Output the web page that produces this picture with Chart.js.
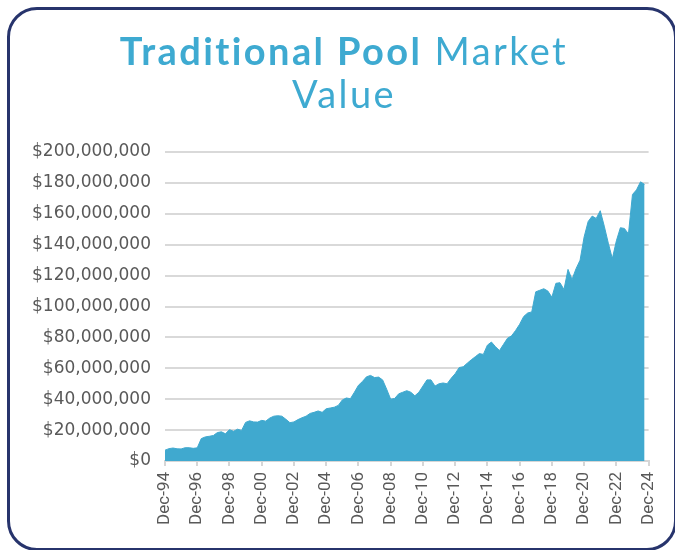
<!DOCTYPE html>
<html>
<head>
<meta charset="utf-8">
<script src="https://cdn.jsdelivr.net/npm/chart.js@4"></script>
<style>
  html, body { margin: 0; padding: 0; background: #ffffff; overflow: hidden; }
  body { width: 675px; height: 550px; position: relative; }
  .frame {
    position: absolute; left: 7px; top: 7px; width: 670px; height: 544px;
    box-sizing: border-box; border: 3px solid #27346c; border-radius: 30px;
  }
  .title {
    position: absolute; left: 0; top: 29px; width: 688px; text-align: center;
    font-family: Lato, "Open Sans", sans-serif; font-size: 38px; line-height: 43px;
    letter-spacing: 2.4px; color: #3eaad1;
  }
  .title b { font-weight: 700; }
  .title span { font-weight: 400; }
  #wrap { position: absolute; left: 0; top: 0; width: 675px; height: 550px; }
</style>
</head>
<body>
<div class="frame"></div>
<div id="wrap"><canvas id="poolChart"></canvas></div>
<div class="title"><b>Traditional Pool</b> <span>Market<br>Value</span></div>

<script>
// quarterly market value, Dec-94 .. Sep-24, in $ millions
const marketValues = [
  7.0, 8.0, 8.4, 7.9, 7.8, 8.6, 8.6, 8.2,
  8.5, 14.5, 15.6, 16.0, 16.5, 18.4, 18.9, 17.6,
  20.3, 19.2, 20.6, 19.8, 25.0, 26.0, 25.3, 25.2,
  26.3, 25.8, 27.8, 29.0, 29.3, 29.0, 27.0, 24.8,
  25.3, 26.8, 28.0, 29.0, 30.8, 31.5, 32.4, 31.5,
  33.8, 34.3, 34.8, 36.0, 39.5, 40.8, 40.3, 44.5,
  49.0, 51.5, 54.5, 55.4, 54.0, 54.3, 52.5, 46.5,
  40.0, 40.5, 43.5, 44.5, 45.5, 44.5, 42.2, 44.5,
  48.5, 52.5, 52.5, 48.5, 50.0, 50.5, 50.0, 53.5,
  56.5, 60.5, 61.0, 63.3, 65.5, 67.5, 69.5, 69.0,
  75.0, 77.0, 74.0, 71.5, 75.5, 79.5, 81.0, 84.5,
  88.5, 93.5, 95.8, 96.5, 109.5, 110.5, 111.5, 110.0,
  106.0, 115.0, 115.4, 111.0, 124.0, 117.5, 124.5, 130.0,
  145.0, 155.0, 158.5, 157.0, 162.0, 152.0, 141.0, 131.0,
  142.5, 151.0, 150.5, 147.0, 172.5, 175.5, 180.7, 179.0,
];

// one tick every 8 quarters
const tickLabels = [
  "Dec-94", "Dec-96", "Dec-98", "Dec-00", "Dec-02", "Dec-04", "Dec-06", "Dec-08",
  "Dec-10", "Dec-12", "Dec-14", "Dec-16", "Dec-18", "Dec-20", "Dec-22", "Dec-24",
];

const yTicks = [0, 20, 40, 60, 80, 100, 120, 140, 160, 180, 200];

const usd = new Intl.NumberFormat("en-US");

new Chart(document.getElementById("poolChart"), {
  type: "line",
  data: {
    datasets: [
      {
        data: marketValues.map((v, i) => ({ x: i, y: v * 1e6 })),
        borderColor: "#40a9cf",
        backgroundColor: "#40a9cf",
        borderWidth: 1,
        fill: "origin",
        pointRadius: 0,
        tension: 0,
      },
    ],
  },
  options: {
    responsive: true,
    maintainAspectRatio: false,
    animation: false,
    layout: { padding: { top: 152, right: 25, left: 0, bottom: 0 } },
    plugins: { legend: { display: false }, tooltip: { enabled: false } },
    scales: {
      x: {
        type: "linear",
        min: 0,
        max: (tickLabels.length - 1) * 8,
        afterBuildTicks: (s) => {
          s.ticks = tickLabels.map((_, i) => ({ value: i * 8 }));
        },
        afterFit: (s) => { s.height = 89; },
        ticks: {
          autoSkip: false,
          minRotation: 90,
          maxRotation: 90,
          padding: 6,
          color: "#595959",
          font: { family: "Roboto", size: 17 },
          callback: (v) => tickLabels[Math.round(v / 8)],
        },
        grid: { drawOnChartArea: false, color: "#d6d6d6", lineWidth: 2, tickLength: 5 },
        border: { display: true, color: "#d6d6d6", width: 2 },
      },
      y: {
        min: 0,
        max: 200e6,
        afterBuildTicks: (s) => {
          s.ticks = yTicks.map((v) => ({ value: v * 1e6 }));
        },
        afterFit: (s) => { s.width = 165; },
        ticks: {
          padding: 14,
          color: "#595959",
          font: { family: "DejaVu Sans", size: 17 },
          callback: (v) => "$" + usd.format(v),
        },
        grid: { color: "#d9d9d9", lineWidth: 2, drawTicks: false },
        border: { display: false },
      },
    },
  },
});
</script>
</body>
</html>
